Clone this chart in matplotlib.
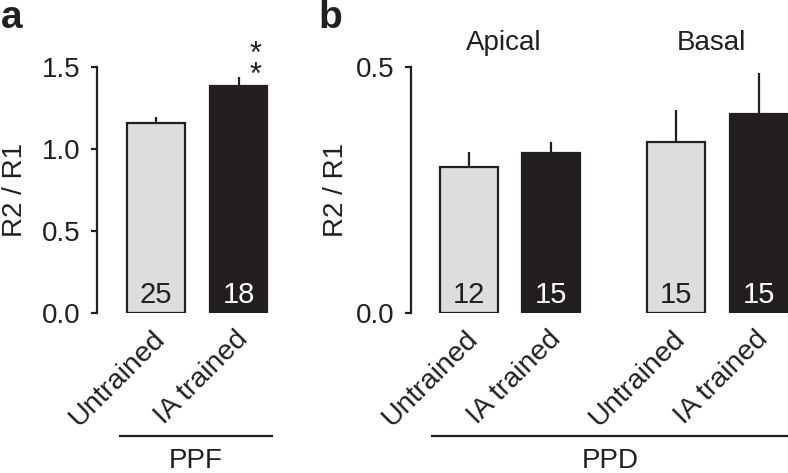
import matplotlib
matplotlib.use('Agg')
from matplotlib import pyplot as plt
from matplotlib.lines import Line2D
from matplotlib.transforms import ScaledTranslation

plt.rcParams['font.family'] = ['Liberation Sans', 'DejaVu Sans']

# panel a: PPF
ppf_groups = ['Untrained', 'IA trained']
ppf_means = [1.16, 1.385]
ppf_errs = [0.035, 0.055]
ppf_counts = ['25', '18']

# panel b: PPD
ppd_groups = ['Untrained', 'IA trained', 'Untrained', 'IA trained']
ppd_means = [0.297, 0.325, 0.348, 0.405]
ppd_errs = [0.030, 0.023, 0.065, 0.083]
ppd_counts = ['12', '15', '15', '15']
ppd_regions = ['Apical', 'Basal']

light = '#dcddde'
dark = '#231f20'
ink = '#231f20'
fs = 20

W, H = 788, 473
fig = plt.figure(figsize=(W / 100, H / 100), dpi=100)


def px_axes(x0, x1, y_top, y_bot):
    return fig.add_axes([x0 / W, 1 - y_bot / H, (x1 - x0) / W, (y_bot - y_top) / H])


def style_axes(ax, ymax, ticks, lpad):
    for s in ['top', 'right', 'bottom']:
        ax.spines[s].set_visible(False)
    ax.spines['left'].set_linewidth(1.6)
    ax.spines['left'].set_color(ink)
    ax.spines['left'].set_bounds(0, ymax)
    ax.set_ylim(0, ymax)
    ax.set_yticks(ticks)
    ax.set_yticklabels([f'{t:.1f}' for t in ticks])
    ax.tick_params(axis='y', length=4, width=1.6, color=ink, labelsize=fs, pad=8, labelcolor=ink)
    ax.tick_params(axis='x', length=0, labelsize=20.5, pad=9, labelcolor=ink)
    ax.set_ylabel('R2 / R1', fontsize=fs, color=ink, labelpad=lpad)
    ax.patch.set_visible(False)


def rotate_labels(ax, labels):
    ax.set_xticklabels(labels, rotation=45, ha='right', rotation_mode='anchor')
    shift = ScaledTranslation(-4 / 100, 0, fig.dpi_scale_trans)
    for t in ax.get_xticklabels():
        t.set_transform(t.get_transform() + shift)


def draw_bars(ax, pos, means, errs, counts):
    colors = [light if i % 2 == 0 else dark for i in range(len(means))]
    ax.bar(pos, means, width=0.70, color=colors, edgecolor=ink, linewidth=1.6, zorder=2)
    ax.errorbar(pos, means, yerr=[[0] * len(errs), errs], fmt='none', ecolor=ink,
                elinewidth=1.6, capsize=0, zorder=1)
    for i, (p, c) in enumerate(zip(pos, counts)):
        ax.text(p, 0.075, c, transform=ax.get_xaxis_transform(), ha='center', va='center',
                fontsize=21, color=ink if i % 2 == 0 else 'white', zorder=3)


# ---- panel a
ax1 = px_axes(97, 272, 67, 313)
pos_a = [0, 1]
draw_bars(ax1, pos_a, ppf_means, ppf_errs, ppf_counts)
style_axes(ax1, 1.5, [0.0, 0.5, 1.0, 1.5], 10)
ax1.set_xlim(-0.715, 1.406)
ax1.set_xticks(pos_a)
rotate_labels(ax1, ppf_groups)
ax1.text(1.2, 1.51, '*\n*', ha='center', va='center', fontsize=22, color=ink,
         linespacing=0.6, clip_on=False)

# ---- panel b
ax2 = px_axes(411, 788, 67, 313)
pos_b = [0, 1, 2.51, 3.51]
draw_bars(ax2, pos_b, ppd_means, ppd_errs, ppd_counts)
style_axes(ax2, 0.5, [0.0, 0.5], 5)
ax2.set_xlim(-0.697, 3.86)
ax2.set_xticks(pos_b)
rotate_labels(ax2, ppd_groups)
for k, name in enumerate(ppd_regions):
    cx = (pos_b[2 * k] + pos_b[2 * k + 1]) / 2 - 0.08
    ax2.text(cx, 1.098, name, transform=ax2.get_xaxis_transform(), ha='center', va='center',
             fontsize=fs, color=ink)

# group lines and labels
for x0, x1, label in [(120, 272, 'PPF'), (432, 788, 'PPD')]:
    fig.add_artist(Line2D([x0 / W, x1 / W], [1 - 436 / H] * 2, color=ink, linewidth=1.6))
    fig.text((x0 + x1) / 2 / W, 1 - 461 / H, label, ha='center', va='center', fontsize=fs, color=ink)

# panel letters
fig.text(1 / W, 1 - 28 / H, 'a', fontsize=28, fontweight='bold', va='baseline', ha='left', color=ink)
fig.text(318 / W, 1 - 28 / H, 'b', fontsize=28, fontweight='bold', va='baseline', ha='left', color=ink)

fig.savefig('out.png', dpi=100)
